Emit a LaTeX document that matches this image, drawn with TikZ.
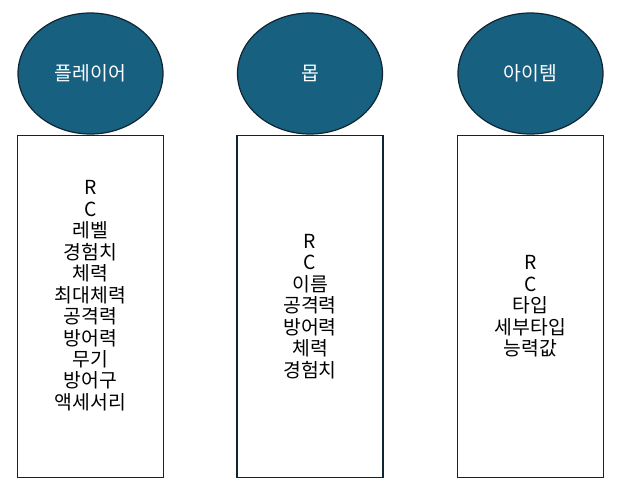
\documentclass[tikz,border=0pt]{standalone}
\usepackage{fontspec}
\setmainfont{Noto Sans CJK KR}
\usetikzlibrary{shapes.geometric,positioning}
\definecolor{deepsea}{RGB}{23,96,128}
\definecolor{ink}{RGB}{14,38,52}
\tikzset{
  head/.style={ellipse,draw=ink,fill=deepsea,line width=0.9pt,inner sep=0pt,
    minimum width=108.75pt,minimum height=90.75pt,text=white,
    font=\fontsize{14.5}{16}\selectfont},
  attrbox/.style={draw=ink,line width=1.3pt,inner sep=0pt,
    minimum width=109.5pt,minimum height=256.5pt},
  attrlist/.style={align=center,inner sep=0pt,font=\fontsize{14.5}{16.1}\selectfont},
}
\begin{document}
\begin{tikzpicture}[x=0.75pt,y=0.75pt]
  \useasboundingbox (0,0) rectangle (622,-492);
  % heads
  \node[head] (player) at (90.5,-73.5) {플레이어};
  \node[head] (mob) at (310,-73.5) {몹};
  \node[head] (item) at (530.5,-73.5) {아이템};
  % attribute boxes
  \node[attrbox,below=0pt of player] (playerbox) {};
  \node[attrbox,below=0pt of mob] (mobbox) {};
  \node[attrbox,below=0pt of item] (itembox) {};
  \node[attrlist] (playerlist) at ([yshift=8pt]playerbox.center) {R\\C\\레벨\\경험치\\체력\\최대체력\\공격력\\방어력\\무기\\방어구\\액세서리};
  \node[attrlist] (moblist) at (mobbox.center) {R\\C\\이름\\공격력\\방어력\\체력\\경험치};
  \node[attrlist] (itemlist) at (itembox.center) {R\\C\\타입\\세부타입\\능력값};
\end{tikzpicture}
\end{document}
